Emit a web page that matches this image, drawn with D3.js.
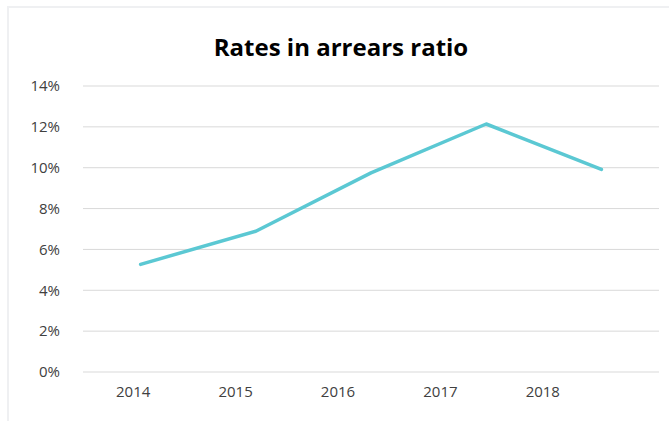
<!DOCTYPE html>
<html>
<head>
<meta charset="utf-8">
<script src="https://cdn.jsdelivr.net/npm/d3@7"></script>
<style>
  html, body { margin: 0; padding: 0; background: #fff; }
  svg { display: block; font-family: "Open Sans", "Noto Sans", sans-serif; }
</style>
</head>
<body>
<svg id="chart" width="669" height="421"></svg>
<script>
const title = "Rates in arrears ratio";
const years = ["2014", "2015", "2016", "2017", "2018"];
const ratios = [5.27, 6.89, 9.75, 12.14, 9.92];
const yTicks = [0, 2, 4, 6, 8, 10, 12, 14];

const svg = d3.select("#chart");
const W = 669, H = 421;

// frame
svg.append("rect")
  .attr("x", 8).attr("y", 7)
  .attr("width", W).attr("height", H)
  .attr("fill", "#fff")
  .attr("stroke", "#eff0f2").attr("stroke-width", 2);

const plot = { left: 83, right: 659, top: 86, bottom: 372 };

const x = d3.scaleBand().domain(years).range([plot.left, plot.right]).padding(0);
const xLabel = d3.scaleBand().domain(years).range([82, 594]).padding(0);
const y = d3.scaleLinear().domain([0, 14]).range([plot.bottom, plot.top]);

// gridlines
svg.append("g").selectAll("line").data(yTicks).join("line")
  .attr("x1", plot.left).attr("x2", plot.right)
  .attr("y1", d => y(d)).attr("y2", d => y(d))
  .attr("stroke", "#d9d9d9").attr("stroke-width", 1);

// y labels
svg.append("g").selectAll("text").data(yTicks).join("text")
  .attr("x", 60).attr("y", d => y(d))
  .attr("dy", "0.35em")
  .attr("text-anchor", "end")
  .attr("font-size", 15)
  .attr("fill", "#404040")
  .text(d => d + "%");

// x labels
svg.append("g").selectAll("text").data(years).join("text")
  .attr("x", d => xLabel(d) + xLabel.bandwidth() / 2)
  .attr("y", 392)
  .attr("dy", "0.35em")
  .attr("text-anchor", "middle")
  .attr("font-size", 15)
  .attr("fill", "#404040")
  .text(d => d);

// line
const line = d3.line()
  .x((d, i) => x(years[i]) + x.bandwidth() / 2)
  .y(d => y(d));

svg.append("path")
  .datum(ratios)
  .attr("d", line)
  .attr("fill", "none")
  .attr("stroke", "#5bc8d3")
  .attr("stroke-width", 3.5)
  .attr("stroke-linecap", "round")
  .attr("stroke-linejoin", "round");

// title
svg.append("text")
  .attr("x", 341).attr("y", 48)
  .attr("dy", "0.35em")
  .attr("text-anchor", "middle")
  .attr("font-size", 24)
  .attr("font-weight", "bold")
  .attr("fill", "#000")
  .text(title);
</script>
</body>
</html>
